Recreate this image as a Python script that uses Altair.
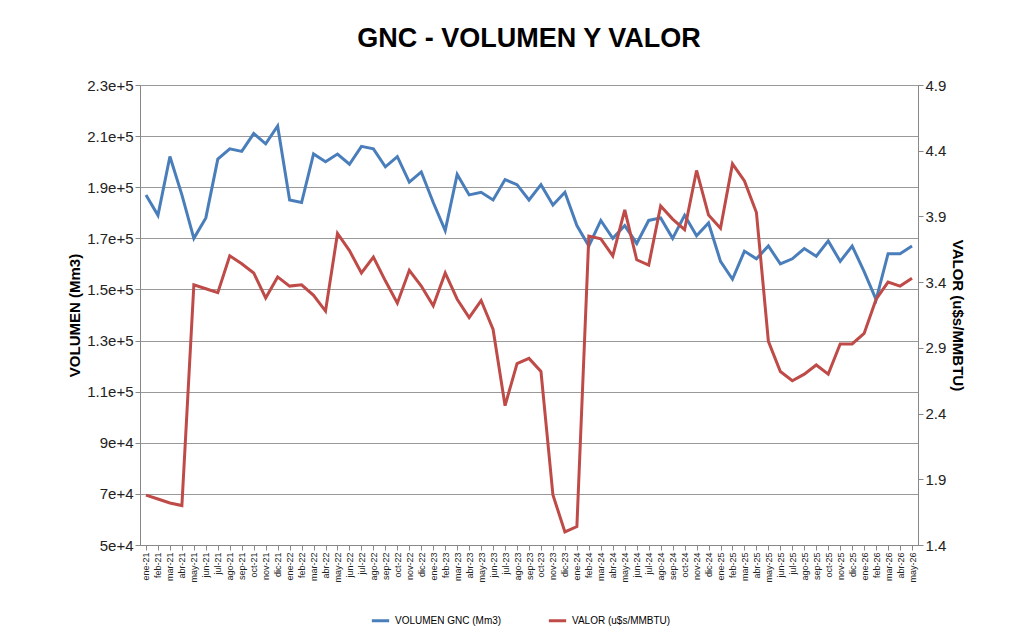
import altair as alt
import pandas as pd

months = []
for yy in range(21, 27):
    for m in ["ene", "feb", "mar", "abr", "may", "jun", "jul", "ago", "sep", "oct", "nov", "dic"]:
        months.append(f"{m}-{yy}")
months = months[:65]

volumen = [187000, 179000, 202000, 187000, 170000, 178000, 201000, 205000, 204000, 211000, 207000, 214000,
           185000, 184000, 203000, 200000, 203000, 199000, 206000, 205000, 198000, 202000, 192000, 196000,
           184000, 173000, 195000, 187000, 188000, 185000, 193000, 191000, 185000, 191000, 183000, 188000,
           175000, 167000, 177000, 170000, 175000, 168000, 177000, 178000, 170000, 179000, 171000, 176000,
           161000, 154000, 165000, 162000, 167000, 160000, 162000, 166000, 163000, 169000, 161000, 167000,
           157000, 146000, 164000, 164000, 167000]
valor = [1.78, 1.75, 1.72, 1.70, 3.38, 3.35, 3.32, 3.60, 3.54, 3.47, 3.28, 3.44,
         3.37, 3.38, 3.30, 3.18, 3.77, 3.64, 3.47, 3.59, 3.41, 3.24, 3.49, 3.37,
         3.22, 3.47, 3.27, 3.13, 3.26, 3.04, 2.46, 2.78, 2.82, 2.72, 1.78, 1.50,
         1.54, 3.75, 3.73, 3.60, 3.95, 3.57, 3.53, 3.98, 3.88, 3.80, 4.25, 3.91,
         3.81, 4.30, 4.17, 3.93, 2.95, 2.72, 2.65, 2.70, 2.77, 2.70, 2.93, 2.93,
         3.01, 3.27, 3.40, 3.37, 3.43]

S1 = "VOLUMEN GNC (Mm3)"
S2 = "VALOR (u$s/MMBTU)"

df = pd.DataFrame({"mes": months, "volumen": volumen, "valor": valor})
df["s1"] = S1
df["s2"] = S2

font = "Liberation Sans"
cscale = alt.Scale(domain=[S1, S2], range=["#4a7ebb", "#be4b48"])
legend = alt.Legend(title=None, orient="none", direction="horizontal",
                    legendX=230, legendY=525, symbolType="stroke",
                    symbolStrokeWidth=3, symbolSize=300, labelFontSize=10,
                    labelFont=font, columnPadding=40)

x = alt.X("mes:N", sort=months, scale=alt.Scale(type="point", padding=0.5),
          axis=alt.Axis(title=None, labelAngle=-90, labelFontSize=9, labelFont=font,
                        labelColor="#222", grid=False, domainColor="#888", tickColor="#888"))

vol = alt.Chart(df).mark_line(strokeWidth=3).encode(
    x=x,
    y=alt.Y("volumen:Q", scale=alt.Scale(domain=[50000, 230000]),
            axis=alt.Axis(title="VOLUMEN (Mm3)", values=list(range(50000, 230001, 20000)),
                          format=",", labelFontSize=15, labelFont=font, titleFontSize=15,
                          titleFont=font, gridColor="#999", domainColor="#888",
                          tickColor="#888", labelColor="#222", titleColor="#000")),
    color=alt.Color("s1:N", scale=cscale, legend=legend),
)

val = alt.Chart(df).mark_line(strokeWidth=3).encode(
    x=x,
    y=alt.Y("valor:Q", scale=alt.Scale(domain=[1.4, 4.9]),
            axis=alt.Axis(title="VALOR (u$s/MMBTU)", orient="right",
                          values=[1.4, 1.9, 2.4, 2.9, 3.4, 3.9, 4.4, 4.9], format=".1f",
                          labelFontSize=15, labelFont=font, titleFontSize=15, titleFont=font,
                          grid=False, domainColor="#888", tickColor="#888",
                          labelColor="#222", titleColor="#000")),
    color=alt.Color("s2:N", scale=cscale, legend=legend),
)

chart = alt.layer(vol, val).resolve_scale(y="independent").properties(
    width=778, height=460,
    padding={"left": 132, "top": 77, "right": 98, "bottom": 90},
    autosize=alt.AutoSizeParams(type="none"),
    title=alt.Title("GNC - VOLUMEN Y VALOR", fontSize=27, font=font, fontWeight="bold",
                    color="#000", offset=25),
).configure_view(stroke="#888")

chart.save("out.html", embed_options={"renderer": "svg", "actions": False})
